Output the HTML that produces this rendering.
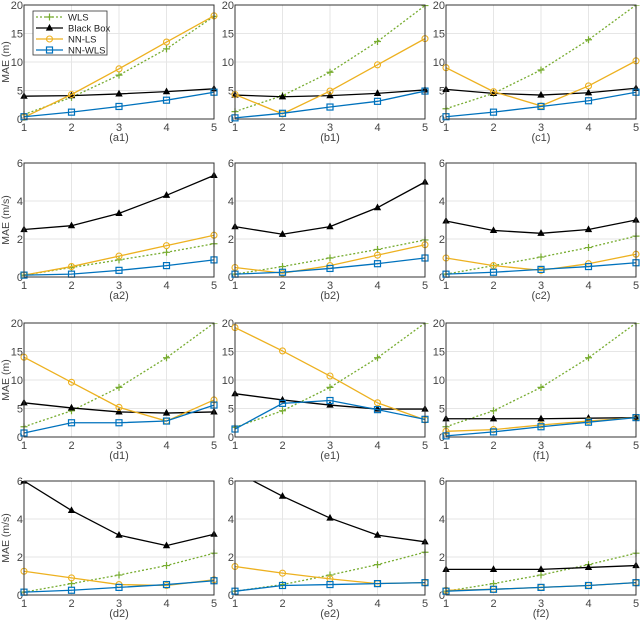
<!DOCTYPE html>
<html><head><meta charset="utf-8">
<style>
html,body{margin:0;padding:0;background:#fff;}
svg{display:block;font-family:"Liberation Sans",sans-serif;}
</style></head>
<body>
<svg id="fig" width="640" height="620" viewBox="0 0 640 620" xmlns="http://www.w3.org/2000/svg"></svg>
<script>
const xCats = [1,2,3,4,5];
const panelIds = ["a1","b1","c1","a2","b2","c2","d1","e1","f1","d2","e2","f2"];
const posTicks = [0,5,10,15,20];
const velTicks = [0,2,4,6];
const seriesNames = ["WLS","Black Box","NN-LS","NN-WLS"];

const wls_a1=[0.8,3.8,7.7,12.3,18], bb_a1=[4,4.1,4.4,4.8,5.3], nnls_a1=[0.3,4.3,8.8,13.5,18.1], nnwls_a1=[0.4,1.2,2.2,3.3,4.7];
const wls_b1=[1.3,4.1,8.2,13.6,19.9], bb_b1=[4.2,3.9,4.1,4.5,5.1], nnls_b1=[4.3,0.9,4.9,9.5,14.1], nnwls_b1=[0.2,1.0,2.1,3.1,4.9];
const wls_c1=[1.8,4.5,8.6,13.9,20], bb_c1=[5.2,4.5,4.2,4.6,5.4], nnls_c1=[9,4.8,2.3,5.8,10.2], nnwls_c1=[0.4,1.2,2.2,3.2,4.7];
const wls_a2=[0.1,0.5,0.9,1.3,1.75], bb_a2=[2.5,2.7,3.35,4.3,5.35], nnls_a2=[0.1,0.55,1.1,1.65,2.2], nnwls_a2=[0.1,0.15,0.35,0.6,0.9];
const wls_b2=[0.15,0.55,1.0,1.45,1.95], bb_b2=[2.65,2.25,2.65,3.65,5.0], nnls_b2=[0.5,0.2,0.6,1.15,1.7], nnwls_b2=[0.15,0.25,0.45,0.7,1.0];
const wls_c2=[0.15,0.6,1.05,1.55,2.15], bb_c2=[2.95,2.45,2.3,2.5,3.0], nnls_c2=[1.0,0.6,0.35,0.7,1.2], nnwls_c2=[0.15,0.25,0.4,0.55,0.75];
const wls_d1=[1.8,4.6,8.7,13.9,20], bb_d1=[6,5.1,4.4,4.2,4.4], nnls_d1=[14,9.6,5.2,2.8,6.5], nnwls_d1=[0.7,2.5,2.5,2.8,5.6];
const wls_e1=[1.7,4.6,8.7,13.9,20], bb_e1=[7.6,6.5,5.6,4.9,4.9], nnls_e1=[19.2,15.1,10.7,6,3], nnwls_e1=[1.4,5.9,6.4,4.8,3.1];
const wls_f1=[1.8,4.6,8.7,13.9,20], bb_f1=[3.2,3.2,3.2,3.3,3.4], nnls_f1=[1,1.3,2.1,2.8,3.4], nnwls_f1=[0.2,0.9,1.8,2.6,3.4];
const wls_d2=[0.15,0.6,1.05,1.55,2.2], bb_d2=[6,4.45,3.15,2.6,3.2], nnls_d2=[1.25,0.9,0.55,0.5,0.8], nnwls_d2=[0.15,0.25,0.4,0.55,0.75];
const wls_e2=[0.2,0.55,1.05,1.6,2.25], bb_e2=[6.5,5.2,4.05,3.15,2.8], nnls_e2=[1.5,1.15,0.85,0.6,0.65], nnwls_e2=[0.2,0.5,0.55,0.6,0.65];
const wls_f2=[0.2,0.6,1.05,1.6,2.2], bb_f2=[1.35,1.35,1.35,1.45,1.55], nnls_f2=[0.25,0.3,0.4,0.5,0.65], nnwls_f2=[0.2,0.3,0.4,0.5,0.65];

const panelData = {
 a1:[wls_a1,bb_a1,nnls_a1,nnwls_a1], b1:[wls_b1,bb_b1,nnls_b1,nnwls_b1], c1:[wls_c1,bb_c1,nnls_c1,nnwls_c1],
 a2:[wls_a2,bb_a2,nnls_a2,nnwls_a2], b2:[wls_b2,bb_b2,nnls_b2,nnwls_b2], c2:[wls_c2,bb_c2,nnls_c2,nnwls_c2],
 d1:[wls_d1,bb_d1,nnls_d1,nnwls_d1], e1:[wls_e1,bb_e1,nnls_e1,nnwls_e1], f1:[wls_f1,bb_f1,nnls_f1,nnwls_f1],
 d2:[wls_d2,bb_d2,nnls_d2,nnwls_d2], e2:[wls_e2,bb_e2,nnls_e2,nnwls_e2], f2:[wls_f2,bb_f2,nnls_f2,nnwls_f2]
};

const NS="http://www.w3.org/2000/svg";
const svg=document.getElementById("fig");
const colors=["#77AC30","#000000","#EDB120","#0072BD"];
const lefts=[24,235,446], tops=[5,163,323,481], W=190, H=114;

function mk(tag,attrs,parent){const e=document.createElementNS(NS,tag);for(const k in attrs)e.setAttribute(k,attrs[k]);(parent||svg).appendChild(e);return e;}

function marker(g,k,x,y){
  const c=colors[k];
  if(k===0){mk("path",{d:`M${x-3.5} ${y}H${x+3.5}M${x} ${y-3.5}V${y+3.5}`,stroke:c,"stroke-width":1.2,fill:"none"},g);}
  else if(k===1){mk("path",{d:`M${x} ${y-3.3}L${x+3} ${y+2.2}L${x-3} ${y+2.2}Z`,fill:c,stroke:c,"stroke-width":0.8},g);}
  else if(k===2){mk("circle",{cx:x,cy:y,r:3,fill:"none",stroke:c,"stroke-width":1.1},g);}
  else {mk("rect",{x:x-3,y:y-3,width:6,height:6,fill:"none",stroke:c,"stroke-width":1.2},g);}
}

panelIds.forEach((id,i)=>{
  const col=i%3,row=Math.floor(i/3);
  const L=lefts[col],T=tops[row];
  const isPos=(row%2===0);
  const ticks=isPos?posTicks:velTicks;
  const ymax=isPos?20:6;
  const sx=v=>L+(v-1)/4*W;
  const sy=v=>T+H-v/ymax*H;
  const g=mk("g",{});
  
  
  mk("rect",{x:L,y:T,width:W,height:H,fill:"#fff"},g);
  xCats.forEach(v=>mk("line",{x1:sx(v),x2:sx(v),y1:T,y2:T+H,stroke:"#e6e6e6","stroke-width":1},g));
  ticks.forEach(v=>mk("line",{x1:L,x2:L+W,y1:sy(v),y2:sy(v),stroke:"#e6e6e6","stroke-width":1},g));
  xCats.forEach(v=>{const t=mk("text",{x:sx(v),y:T+H+12,"font-size":11,fill:"#444","text-anchor":"middle"},g);t.textContent=v;});
  ticks.forEach(v=>{const t=mk("text",{x:L-1,y:sy(v)+4,"font-size":11,fill:"#444","text-anchor":"end"},g);t.textContent=v;});
  const sub=mk("text",{x:L+W/2,y:T+H+22,"font-size":11,fill:"#444","text-anchor":"middle"},g);
  sub.textContent="("+id+")";
  
  if(col===0){
    const yl=mk("text",{x:0,y:0,"font-size":10.5,fill:"#444","text-anchor":"middle",transform:`translate(${L-15},${T+H/2}) rotate(-90)`},g);
    yl.textContent=isPos?"MAE (m)":"MAE (m/s)";
    
  }
  const clipId="clip"+id;
  const cp=mk("clipPath",{id:clipId},g);
  mk("rect",{x:L-5,y:T,width:W+10,height:H+5},cp);
  const sg=mk("g",{"clip-path":`url(#${clipId})`},g);
  panelData[id].forEach((vals,k)=>{
    const pts=vals.map((v,j)=>sx(xCats[j])+","+sy(v)).join(" ");
    const pl=mk("polyline",{points:pts,fill:"none",stroke:colors[k],"stroke-width":1.3,"stroke-dasharray":k===0?"2,2":"none"},sg);
    
    
    vals.forEach((v,j)=>marker(sg,k,sx(xCats[j]),sy(v)));
  });
  mk("rect",{x:L,y:T,width:W,height:H,fill:"none",stroke:"#333","stroke-width":1},g);
});

const lg=mk("g",{});


mk("rect",{x:33,y:11,width:74,height:44,fill:"#fff",stroke:"#333","stroke-width":0.8},lg);
seriesNames.forEach((n,k)=>{
  const y=17+k*11;
  const e=mk("g",{},lg);
  
  
  mk("line",{x1:36,x2:63,y1:y,y2:y,stroke:colors[k],"stroke-width":1.3,"stroke-dasharray":k===0?"2,2":"none"},e);
  marker(e,k,49.5,y);
  const t=mk("text",{x:68,y:y+3.5,"font-size":9.5,fill:"#222"},e);
  t.textContent=n;
});
</script>
</body></html>
